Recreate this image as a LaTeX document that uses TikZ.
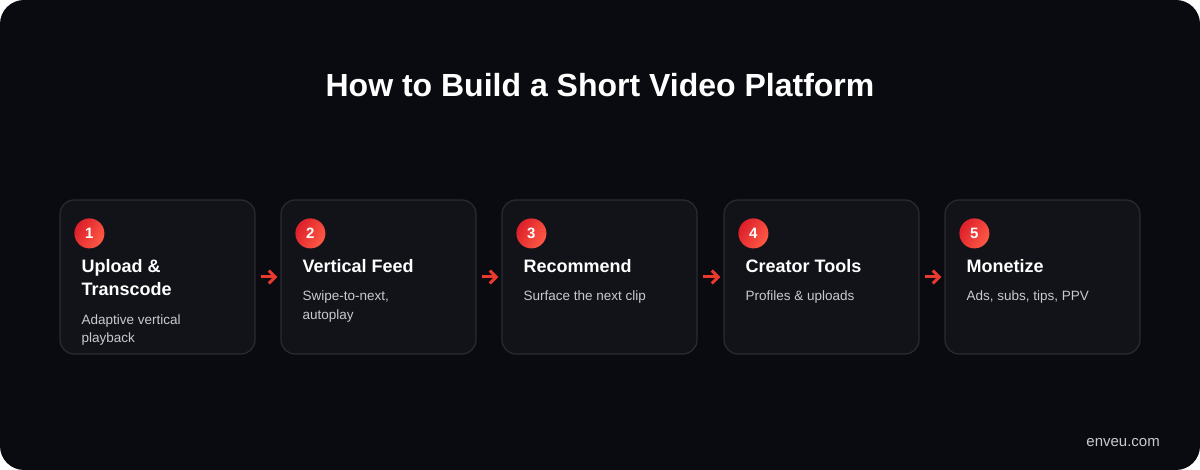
\documentclass[tikz,border=0pt]{standalone}
\usepackage{fontspec}
\setmainfont{Liberation Sans}
\usetikzlibrary{arrows.meta,calc}
\definecolor{bg}{HTML}{0A0B10}
\definecolor{cardfill}{HTML}{111318}
\definecolor{cardline}{HTML}{2A2C33}
\definecolor{desc}{HTML}{C9CACF}
\definecolor{redA}{HTML}{DC1F2A}
\definecolor{redB}{HTML}{FF5A45}
\definecolor{arrowred}{HTML}{EA3A30}
\tikzset{
  card/.style={draw=cardline, line width=1.2pt, fill=cardfill, rounded corners=14pt,
    minimum width=195pt, minimum height=154pt, inner sep=0pt},
  badge/.style={circle, minimum size=30pt, inner sep=0pt, left color=redA, right color=redB,
    shading angle=60, text=white, font=\bfseries\fontsize{15}{15}\selectfont},
  ttl/.style={anchor=base west, inner sep=0pt, align=left, text=white,
    font=\bfseries\fontsize{18}{23}\selectfont},
  dsc/.style={anchor=base west, inner sep=0pt, align=left, text=desc,
    font=\fontsize{13.5}{18.5}\selectfont},
  flow/.style={draw=arrowred, line width=3pt, -{Straight Barb[length=6.5pt,width=13pt]},
    shorten <=5pt, shorten >=3pt}
}
\begin{document}
\begin{tikzpicture}[x=1pt,y=-1pt]
\useasboundingbox (0,0) rectangle (1200,470);
\fill[white] (0,0) rectangle (1200,470);
\fill[bg, rounded corners=24pt] (0,0) rectangle (1200,470);
\node[anchor=base, text=white, inner sep=0pt, font=\bfseries\fontsize{32}{32}\selectfont] (title) at (600,96.5) {How to Build a Short Video Platform};

\node[card] (c1) at (157.5,277) {};
\node[card] (c2) at (378.5,277) {};
\node[card] (c3) at (599.5,277) {};
\node[card] (c4) at (821.5,277) {};
\node[card] (c5) at (1042.5,277) {};

\node[badge] (b1) at ($(c1.north west)+(30,34)$) {1};
\node[badge] (b2) at ($(c2.north west)+(30,34)$) {2};
\node[badge] (b3) at ($(c3.north west)+(30,34)$) {3};
\node[badge] (b4) at ($(c4.north west)+(30,34)$) {4};
\node[badge] (b5) at ($(c5.north west)+(30,34)$) {5};

\node[ttl] (t1) at ($(c1.north west)+(22,96)$) {Upload \&\\Transcode};
\node[ttl] (t2) at ($(c2.north west)+(22,73)$) {Vertical Feed};
\node[ttl] (t3) at ($(c3.north west)+(22,73)$) {Recommend};
\node[ttl] (t4) at ($(c4.north west)+(22,73)$) {Creator Tools};
\node[ttl] (t5) at ($(c5.north west)+(22,73)$) {Monetize};

\node[dsc] (d1) at ($(c1.north west)+(22,143.5)$) {Adaptive vertical\\playback};
\node[dsc] (d2) at ($(c2.north west)+(22,120)$) {Swipe-to-next,\\autoplay};
\node[dsc] (d3) at ($(c3.north west)+(22,101.5)$) {Surface the next clip};
\node[dsc] (d4) at ($(c4.north west)+(22,101.5)$) {Profiles \& uploads};
\node[dsc] (d5) at ($(c5.north west)+(22,101.5)$) {Ads, subs, tips, PPV};

\draw[flow] (c1.east) -- (c2.west);
\draw[flow] (c2.east) -- (c3.west);
\draw[flow] (c3.east) -- (c4.west);
\draw[flow] (c4.east) -- (c5.west);

\node[anchor=base east, inner sep=0pt, text=desc, font=\fontsize{15}{15}\selectfont] (foot) at (1160,446) {enveu.com};
\end{tikzpicture}
\end{document}
